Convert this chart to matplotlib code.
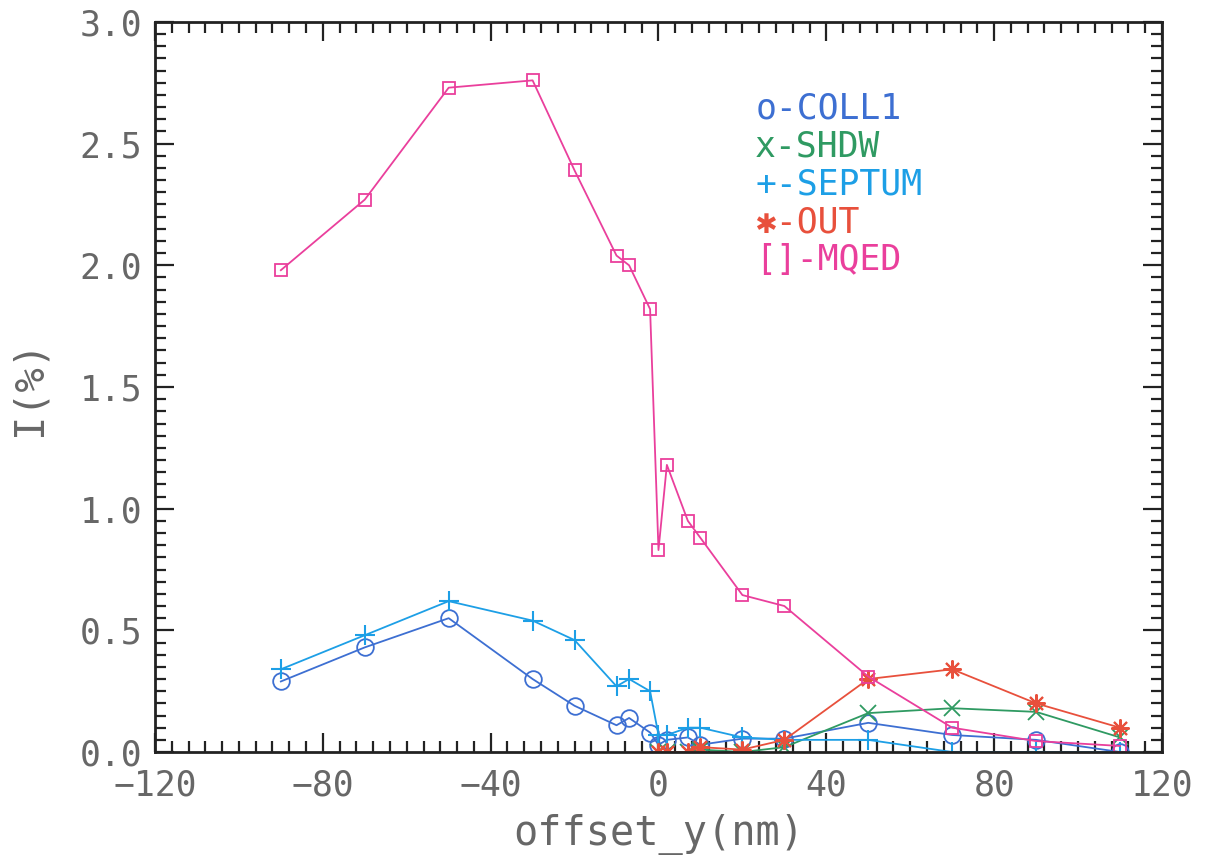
import matplotlib
matplotlib.use("Agg")
import matplotlib.pyplot as plt
from matplotlib.ticker import MultipleLocator, FormatStrFormatter

# ---- data ----
mqed_x = [-90, -70, -50, -30, -20, -10, -7, -2, 0, 2, 7, 10, 20, 30, 50, 70, 90, 110]
mqed_y = [1.98, 2.27, 2.73, 2.76, 2.39, 2.04, 2.00, 1.82, 0.83, 1.18, 0.95, 0.88, 0.645, 0.60, 0.31, 0.10, 0.045, 0.025]

coll_x = [-90, -70, -50, -30, -20, -10, -7, -2, 0, 2, 7, 10, 20, 30, 50, 70, 90, 110]
coll_y = [0.29, 0.43, 0.55, 0.30, 0.19, 0.11, 0.14, 0.08, 0.03, 0.05, 0.06, 0.03, 0.055, 0.055, 0.12, 0.07, 0.05, 0.0]

sept_x = [-90, -70, -50, -30, -20, -10, -7, -2, 0, 2, 7, 10, 20, 30, 50, 70, 90, 110]
sept_y = [0.34, 0.48, 0.62, 0.54, 0.46, 0.27, 0.30, 0.25, 0.07, 0.07, 0.10, 0.10, 0.06, 0.05, 0.05, 0.0, 0.0, 0.0]

out_x = [0, 2, 7, 10, 20, 30, 50, 70, 90, 110]
out_y = [0.0, 0.0, 0.0, 0.02, 0.01, 0.05, 0.30, 0.34, 0.20, 0.10]

shdw_x = [0, 2, 7, 10, 20, 30, 50, 70, 90, 110]
shdw_y = [0.0, 0.0, 0.0, 0.01, 0.0, 0.02, 0.16, 0.18, 0.165, 0.06]

legend_labels = ["o-COLL1", "x-SHDW", "+-SEPTUM", "\u2731-OUT", "[]-MQED"]

c_coll = "#3d6fd2"
c_shdw = "#2f9a62"
c_sept = "#1d9fe6"
c_out = "#e8503c"
c_mqed = "#ea3f9c"
txt = "#676767"

plt.rcParams['font.family'] = ['DejaVu Sans Mono', 'DejaVu Sans']

fig = plt.figure(figsize=(12.07, 8.65), dpi=100)
ax = fig.add_axes([0.1284, 0.1306, 0.8343, 0.844])

lw = 1.3
ax.plot(coll_x, coll_y, color=c_coll, lw=lw, marker='o', ms=12, mfc='none', mew=1.3)
ax.plot(shdw_x, shdw_y, color=c_shdw, lw=lw, marker='x', ms=11, mew=1.3)
ax.plot(sept_x, sept_y, color=c_sept, lw=lw, marker='+', ms=14, mew=1.5)
ax.plot(out_x, out_y, color=c_out, lw=lw, marker=(8, 2, 0), ms=13, mew=1.5)
ax.plot(mqed_x, mqed_y, color=c_mqed, lw=lw, marker='s', ms=8, mfc='none', mew=1.3)

ax.set_xlim(-120, 120)
ax.set_ylim(0, 3.0)
ax.xaxis.set_major_locator(MultipleLocator(40))
ax.xaxis.set_minor_locator(MultipleLocator(4))
ax.yaxis.set_major_locator(MultipleLocator(0.5))
ax.yaxis.set_minor_locator(MultipleLocator(0.05))
ax.yaxis.set_major_formatter(FormatStrFormatter('%.1f'))

for s in ax.spines.values():
    s.set_color('#222222')
    s.set_linewidth(2.0)
ax.tick_params(which='both', direction='in', top=True, right=True, color='#222222', width=1.6)
ax.tick_params(which='major', length=14, labelsize=25, labelcolor=txt)
ax.tick_params(which='minor', length=8)
ax.tick_params(axis='x', which='major', pad=12)
ax.tick_params(axis='y', which='major', pad=9)

ax.set_xlabel("offset_y(nm)", fontsize=29, color=txt, labelpad=8)
ax.set_ylabel("I(%)", fontsize=29, color=txt, labelpad=22)

leg_colors = [c_coll, c_shdw, c_sept, c_out, c_mqed]
for i, (lab, col) in enumerate(zip(legend_labels, leg_colors)):
    ax.text(0.596, 0.882 - i * 0.052, lab, transform=ax.transAxes, fontsize=25,
            color=col, va='center', ha='left')

fig.savefig("out.png", dpi=100)
